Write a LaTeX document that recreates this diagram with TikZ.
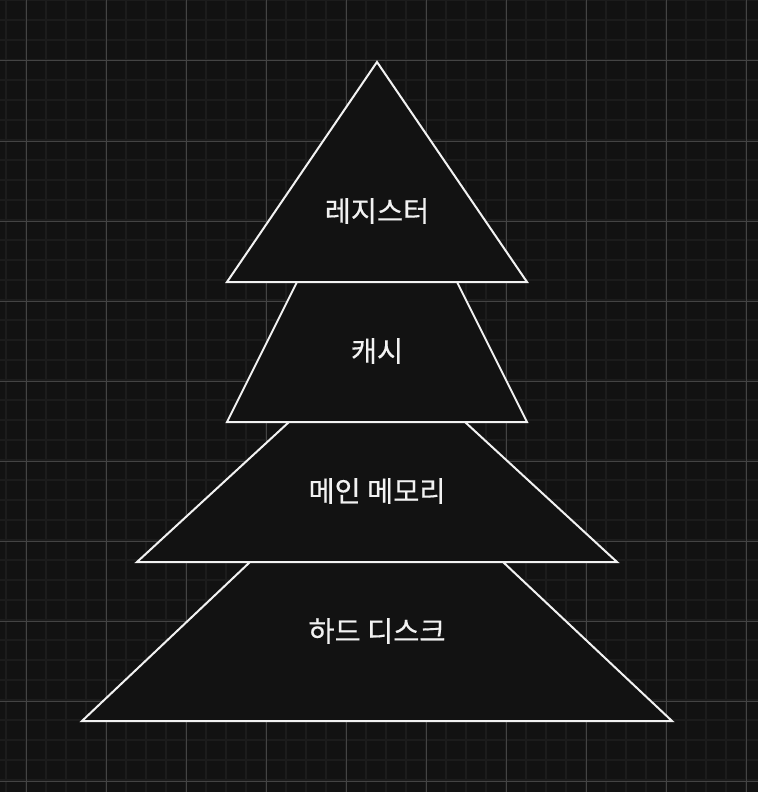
\documentclass[tikz,border=0pt]{standalone}
\usepackage{fontspec}
\newfontfamily\krfont[FakeBold=0.4]{Noto Sans CJK KR}
\definecolor{bgdark}{HTML}{121212}
\definecolor{gridminor}{HTML}{1C1C1C}
\definecolor{gridmajor}{HTML}{444444}
\definecolor{edgewhite}{HTML}{F2F2F2}
\tikzset{
  layer/.style={draw=edgewhite, fill=bgdark, line width=1.5pt, line join=miter},
  tier/.style={text=edgewhite, font=\krfont\fontsize{21.3}{24}\selectfont, inner sep=0pt},
  minorline/.style={draw=gridminor, line width=1.5pt},
  majorline/.style={draw=gridmajor, line width=0.75pt}
}

\begin{document}
\begin{tikzpicture}[x=0.75pt, y=-0.75pt]

    % background and grid
    \fill[bgdark] (0,0) rectangle (758,792);
    \useasboundingbox (0,0) rectangle (758,792);
    \foreach \gx in {6,26,...,746} \draw[minorline] (\gx,0) -- (\gx,792);
    \foreach \gy in {0,20,...,780} \draw[minorline] (0,\gy) -- (758,\gy);
    \foreach \gx in {26,106,...,746} \draw[majorline] (\gx,0) -- (\gx,792);
    \foreach \gy in {61,141,...,781} \draw[majorline] (0,\gy) -- (758,\gy);

    % pyramid layers
    \draw[layer] (377,62) -- (527,282) -- (227,282) -- cycle;
    \draw[layer] (297,282) -- (457,282) -- (527,422) -- (227,422) -- cycle;
    \draw[layer] (289,422) -- (465,422) -- (617,562) -- (137,562) -- cycle;
    \draw[layer] (250,562) -- (503,562) -- (672,721) -- (82,721) -- cycle;

    \node [tier] (reg)   at (377,211) {레지스터};
    \node [tier] (cache) at (377,351) {캐시};
    \node [tier] (mem)   at (377,491) {메인 메모리};
    \node [tier] (disk)  at (377,631) {하드 디스크};

\end{tikzpicture}
\end{document}
